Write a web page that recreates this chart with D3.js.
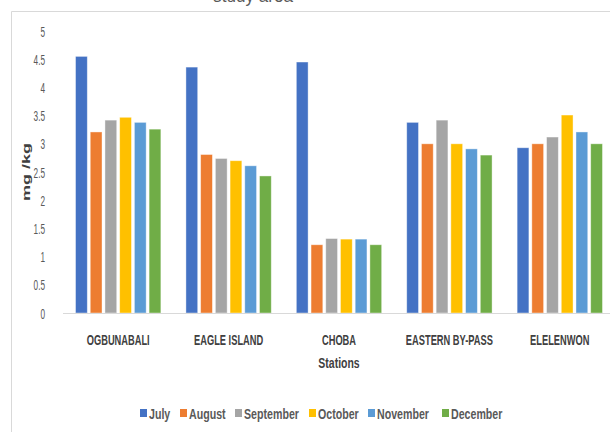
<!DOCTYPE html>
<html><head><meta charset="utf-8">
<script src="https://cdn.jsdelivr.net/npm/d3@7"></script>
<style>body{margin:0;background:#fff}</style>
</head><body><svg id="c" width="610" height="432"></svg>
<script>
const categories = ["OGBUNABALI","EAGLE ISLAND","CHOBA","EASTERN BY-PASS","ELELENWON"];
const months = ["July","August","September","October","November","December"];
const july = [4.55,4.36,4.45,3.38,2.93];
const august = [3.21,2.81,1.21,3.00,3.00];
const september = [3.42,2.74,1.32,3.42,3.12];
const october = [3.47,2.70,1.31,3.00,3.51];
const november = [3.38,2.61,1.31,2.91,3.21];
const december = [3.26,2.43,1.21,2.80,3.00];
const yTicks = [0,0.5,1,1.5,2,2.5,3,3.5,4,4.5,5];
const colors = ["#4472C4","#ED7D31","#A5A5A5","#FFC000","#5B9BD5","#70AD47"];
const series = [july,august,september,october,november,december];

const FONT = '"Liberation Sans Narrow","Arial Narrow","Liberation Sans",sans-serif';
const svg = d3.select("#c");
svg.append("rect").attr("width",610).attr("height",432).attr("fill","#fff");

function txt(x,y,s,o){
  o=o||{};
  const g=svg.append("g").attr("transform",`translate(${x},${y}) scale(${o.sx||1},1)${o.rot?` rotate(${o.rot})`:""}`);
  return g.append("text").text(s)
    .attr("font-family",FONT).attr("font-size",o.size||14)
    .attr("font-weight",o.weight||"normal")
    .attr("fill",o.fill||"#595959")
    .attr("text-anchor",o.anchor||"middle");
}

// chart area border (partially cropped)
svg.append("path").attr("d","M11.5,432V11.5H610").attr("fill","none").attr("stroke","#d9d9d9").attr("stroke-width",1);

// cropped title (only its lower edge is visible in the reference)
txt(253,2,"study area",{size:18,sx:0.95,fill:"#595959"});

const y = d3.scaleLinear().domain([0,5]).range([313,31]);
const x0 = d3.scaleBand().domain(categories).range([63,615]).paddingInner(0.227).paddingOuter(0.1135);
const x1 = d3.scaleBand().domain(months).range([0,x0.bandwidth()]).paddingInner(0.2);

// y tick labels
yTicks.forEach(t=>{
  txt(45,y(t)+5.5,String(t),{size:15,sx:0.55,anchor:"end",fill:"#595959"});
});

// bars
const rows = categories.map((c,i)=>({c, vals: months.map((m,j)=>({m, v: series[j][i], col: colors[j]}))}));
const grp = svg.append("g").selectAll("g").data(rows).join("g")
  .attr("transform",d=>`translate(${x0(d.c)},0)`);
grp.selectAll("rect").data(d=>d.vals).join("rect")
  .attr("x",d=>x1(d.m)).attr("width",x1.bandwidth())
  .attr("y",d=>y(d.v)).attr("height",d=>y(0)-y(d.v))
  .attr("fill",d=>d.col).attr("stroke","#fff").attr("stroke-opacity",0.5).attr("stroke-width",0.8);

// baseline
svg.append("line").attr("x1",63).attr("x2",610).attr("y1",y(0)+0.5).attr("y2",y(0)+0.5)
  .attr("stroke","#d9d9d9").attr("stroke-width",1.2);

// category labels
categories.forEach(c=>{
  txt(x0(c)+x0.bandwidth()/2,345,c,{size:15,sx:0.62,weight:"bold",fill:"#404040"});
});

// axis titles
txt(339,368,"Stations",{size:15,sx:0.7,weight:"bold",fill:"#404040"});
txt(30,172,"mg /kg",{size:18,sx:0.65,rot:-90,weight:"bold",fill:"#404040"});

// legend
const legendX = [140,180,235,309,368,442];
months.forEach((m,j)=>{
  svg.append("rect").attr("x",legendX[j]).attr("y",409).attr("width",7).attr("height",8).attr("fill",colors[j]);
  txt(legendX[j]+9,419,m,{size:14,sx:0.76,anchor:"start",weight:"bold",fill:"#595959"});
});
</script></body></html>
